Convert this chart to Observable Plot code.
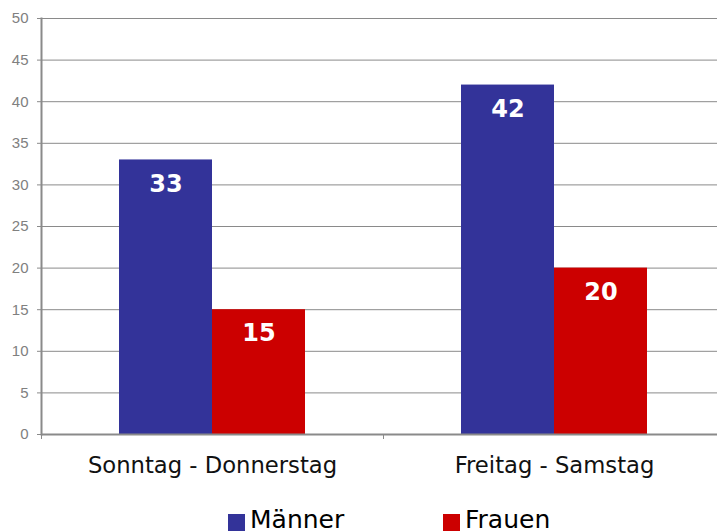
<!DOCTYPE html>
<html>
<head>
<meta charset="utf-8">
<script src="https://cdn.jsdelivr.net/npm/d3@7"></script>
<script src="https://cdn.jsdelivr.net/npm/@observablehq/plot@0.6"></script>
<style>
  html, body { margin: 0; padding: 0; background: white; }
  #legend { position: relative; height: 51px; font-family: "DejaVu Sans", sans-serif; font-size: 25px; color: #000; }
  .item { position: absolute; top: 27px; display: flex; align-items: flex-end; line-height: 1; }
  .sw { width: 17px; height: 17px; margin-right: 5px; margin-bottom: 1px; }
</style>
</head>
<body>
<div id="chart"></div>
<div id="legend"></div>
<script>
const categories = ["Sonntag - Donnerstag", "Freitag - Samstag"];
const series = ["Männer", "Frauen"];
const maenner = [33, 42];
const frauen = [15, 20];
const yTicks = [0, 5, 10, 15, 20, 25, 30, 35, 40, 45, 50];
const colors = ["#333399", "#cc0000"];

const data = categories.flatMap((c, i) => [
  {cat: c, sex: series[0], value: maenner[i]},
  {cat: c, sex: series[1], value: frauen[i]}
]);

const W = 717, mL = 41, mR = -8;
const bandW = (W - mL - mR) / categories.length;

const chart = Plot.plot({
  width: W, height: 480,
  marginLeft: mL, marginRight: mR, marginTop: 18, marginBottom: 46,
  fx: {domain: categories, padding: 0, label: null, axis: null},
  x: {domain: series, paddingInner: 0, paddingOuter: 0.82, axis: null},
  y: {domain: [0, 50], ticks: yTicks},
  color: {domain: series, range: colors},
  style: {fontFamily: "DejaVu Sans", background: "white", overflow: "visible"},
  marks: [
    Plot.gridY(yTicks, {stroke: "#8a8a8a", strokeOpacity: 1}),
    Plot.frame({anchor: "left", facetAnchor: "left", stroke: "#8a8a8a", strokeWidth: 2}),
    Plot.barY(data, {fx: "cat", x: "sex", y: "value", fill: "sex"}),
    Plot.text(data, {fx: "cat", x: "sex", y: "value", text: d => String(d.value), dy: 24,
      fill: "white", fontWeight: "bold", fontSize: 24, fontFamily: "DejaVu Sans"}),
    Plot.axisY(yTicks, {tickSize: 4, tickPadding: 9, stroke: "#8a8a8a", fill: "#808080",
      fontSize: 15, fontFamily: "Liberation Sans", label: null}),
    Plot.ruleY([0], {stroke: "#8a8a8a", strokeWidth: 2}),
    Plot.axisFx({anchor: "bottom", tickSize: 0, tickPadding: 22, fontSize: 22.7, fill: "#111", label: null, fontFamily: "DejaVu Sans"}),
    Plot.axisFx({anchor: "bottom", tickSize: 5, text: null, dx: -bandW / 2, stroke: "#8a8a8a", label: null})
  ]
});
document.getElementById("chart").appendChild(chart);

const legend = document.getElementById("legend");
const lefts = [228, 443];
series.forEach((s, i) => {
  const it = document.createElement("div");
  it.className = "item";
  it.style.left = lefts[i] + "px";
  it.innerHTML = `<span class="sw" style="background:${colors[i]}"></span><span>${s}</span>`;
  legend.appendChild(it);
});
</script>
</body>
</html>
